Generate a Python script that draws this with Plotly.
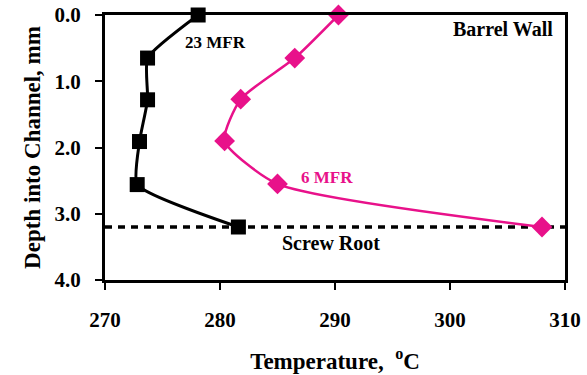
import plotly.graph_objects as go

# Data
depth_23 = [0.0, 0.65, 1.28, 1.91, 2.56, 3.2]
temp_23 = [278.1, 273.7, 273.7, 273.0, 272.8, 281.6]
depth_6 = [0.0, 0.65, 1.27, 1.9, 2.55, 3.2]
temp_6 = [290.3, 286.5, 281.8, 280.4, 285.0, 308.0]
screw_root_depth = 3.2
x_ticks = [270, 280, 290, 300, 310]
y_ticks = [0.0, 1.0, 2.0, 3.0, 4.0]

FONT = "Liberation Serif"
PINK = "#E8118A"

fig = go.Figure()

fig.add_trace(go.Scatter(
    x=temp_23, y=depth_23, mode="lines+markers",
    line=dict(color="black", width=3, shape="spline", smoothing=0.5),
    marker=dict(symbol="square", size=15, color="black"),
    cliponaxis=False, showlegend=False))

fig.add_trace(go.Scatter(
    x=temp_6, y=depth_6, mode="lines+markers",
    line=dict(color=PINK, width=2.5, shape="spline", smoothing=0.6),
    marker=dict(symbol="diamond", size=16, color=PINK),
    cliponaxis=False, showlegend=False))

fig.add_shape(type="line", xref="x", yref="y",
              x0=270, x1=310, y0=screw_root_depth, y1=screw_root_depth,
              line=dict(color="black", width=3.5, dash="7px,6px"), layer="below")

fig.add_annotation(x=279.65, y=0.41, text="<b>23 MFR</b>", showarrow=False,
                   font=dict(family=FONT, size=17, color="black"))
fig.add_annotation(x=289.3, y=2.45, text="<b>6 MFR</b>", showarrow=False,
                   font=dict(family=FONT, size=17, color=PINK))
fig.add_annotation(x=289.65, y=3.44, text="<b>Screw Root</b>", showarrow=False,
                   font=dict(family=FONT, size=20, color="black"))
fig.add_annotation(x=309.1, y=0.21, text="<b>Barrel Wall</b>", showarrow=False,
                   xanchor="right",
                   font=dict(family=FONT, size=20, color="black"))

fig.update_layout(
    width=587, height=375,
    margin=dict(l=105, r=22, t=15, b=95, autoexpand=False),
    paper_bgcolor="white", plot_bgcolor="white",
    font=dict(family=FONT, color="black"),
    xaxis=dict(range=[270, 310], tickvals=x_ticks,
               ticktext=[f"<b>{v}</b>" for v in x_ticks],
               showgrid=False, zeroline=False, automargin=False,
               showline=True, linecolor="black", linewidth=3, mirror=True,
               ticks="outside", ticklen=7, tickwidth=1.5, tickcolor="black",
               tickfont=dict(family=FONT, size=21), ticklabelstandoff=12,
               title=dict(text="<b>Temperature,  <sup>o</sup>C</b>",
                          font=dict(family=FONT, size=23), standoff=22)),
    yaxis=dict(range=[4, 0], tickvals=y_ticks,
               ticktext=[f"<b>{v:.1f}</b>" for v in y_ticks],
               showgrid=False, zeroline=False, automargin=False,
               showline=True, linecolor="black", linewidth=3, mirror=True,
               ticks="outside", ticklen=7, tickwidth=1.5, tickcolor="black",
               tickfont=dict(family=FONT, size=21), ticklabelstandoff=10,
               title=dict(text="<b>Depth into Channel, mm</b>",
                          font=dict(family=FONT, size=23), standoff=8)),
)

fig.write_html("out.html", config={"displayModeBar": False},
               post_script="document.body.style.margin='0';")
